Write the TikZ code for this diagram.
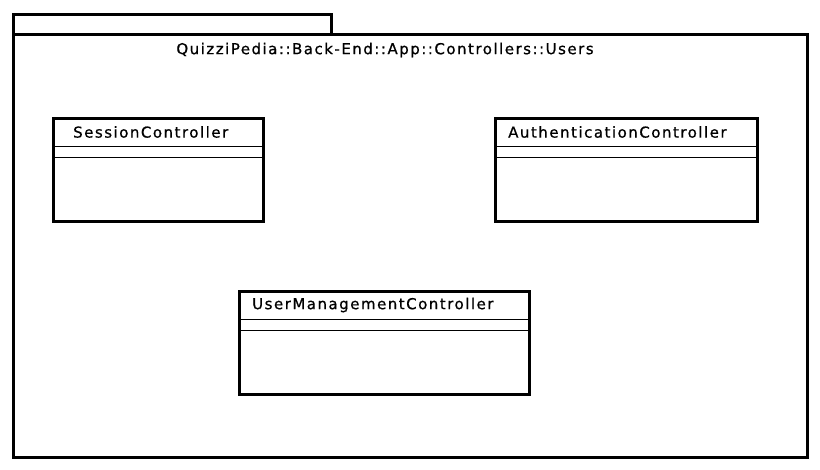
\documentclass[tikz,border=0pt]{standalone}
\usepackage{fontspec}
\setmainfont[LetterSpace=10,FakeBold=0.8]{DejaVu Sans}
\usetikzlibrary{positioning}

\begin{document}
\begin{tikzpicture}[x=1pt,y=-1pt,
  box/.style={draw,line width=2.8pt,anchor=north west,inner sep=0pt},
  label/.style={inner sep=0pt,font=\fontsize{15}{18}\selectfont},
  sep/.style={line width=1pt}]

\useasboundingbox (0,0) rectangle (820,469);

\node[box,minimum width=318pt,minimum height=20pt] (tab) at (12,13) {};
\node[box,minimum width=794pt,minimum height=423pt] (pkg) at (12,33) {};
\node[label] (title) at (385,50) {QuizziPedia::Back-End::App::Controllers::Users};

\node[box,minimum width=210pt,minimum height=103pt] (session) at (52,117) {};
\node[box,minimum width=262pt,minimum height=103pt] (auth) at (494,117) {};
\node[box,minimum width=290pt,minimum height=103pt] (usermgmt) at (238,290) {};

\node[label,anchor=west] (sessionname) [right=21pt of session.north west,yshift=-15pt] {SessionController};
\node[label,anchor=west] (authname) [right=14pt of auth.north west,yshift=-15pt] {AuthenticationController};
\node[label,anchor=west] (usermgmtname) [right=14pt of usermgmt.north west,yshift=-15pt] {UserManagementController};

\foreach \c in {session,auth,usermgmt}{
  \draw[sep] ([yshift=-29pt]\c.north west) -- ([yshift=-29pt]\c.north east);
  \draw[sep] ([yshift=-40pt]\c.north west) -- ([yshift=-40pt]\c.north east);
}
\end{tikzpicture}
\end{document}
